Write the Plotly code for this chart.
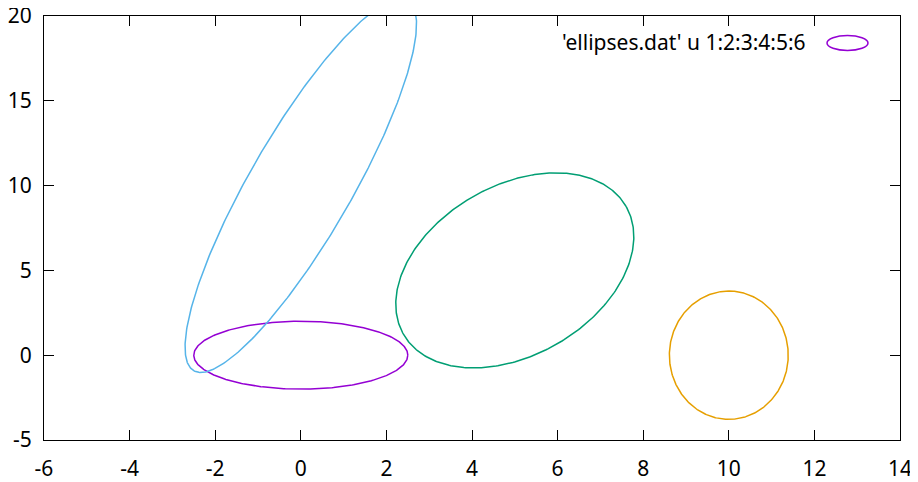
import numpy as np
import plotly.graph_objects as go

# ellipses.dat : x y major minor angle
xc = [0, 10, 5, 0]
yc = [0, 0, 5, 10]
major = [5, 3, 6, 10]
minor = [4, 7, 10, 6]
angle = [0, 90, 30, 60]
colors = ["#9400d3", "#e69f00", "#009e73", "#56b4e9"]

x_ticks = [-6, -4, -2, 0, 2, 4, 6, 8, 10, 12, 14]
x_labels = ["-6", "-4", "-2", "0", "2", "4", "6", "8", "10", "12", "14"]
y_ticks = [-5, 0, 5, 10, 15, 20]
y_labels = ["-5", "0", "5", "10", "15", "20"]
legend_label = "'ellipses.dat' u 1:2:3:4:5:6"

# page body has an 8px default margin: the figure starts at (8, 8)
OFF = 8
W, H = 918 - OFF, 482 - OFF
ML, MR, MT, MB = 44 - OFF, 18, 15.5 - OFF, 42
pw, ph = W - ML - MR, H - MT - MB
xr, yr = [-6, 14], [-5, 20]
sx = pw / (xr[1] - xr[0])
sy = ph / (yr[1] - yr[0])

fig = go.Figure()
t = np.linspace(0, 2 * np.pi, 400)
for cx, cy, ma, mi, ang, col in zip(xc, yc, major, minor, angle, colors):
    a = ma / 2 * sx
    b = mi / 2 * sy
    th = np.deg2rad(ang)
    dx = a * np.cos(t) * np.cos(th) - b * np.sin(t) * np.sin(th)
    dy = a * np.cos(t) * np.sin(th) + b * np.sin(t) * np.cos(th)
    fig.add_trace(go.Scatter(x=cx + dx / sx, y=cy + dy / sy, mode="lines",
                             line=dict(color=col, width=1.5), showlegend=False,
                             hoverinfo="skip"))

font = dict(family="Noto Sans", size=21, color="black")
axis_common = dict(showgrid=False, zeroline=False, showline=True, linecolor="black",
                   linewidth=1, mirror="ticks", ticks="inside", ticklen=10,
                   tickcolor="black", tickwidth=1, tickfont=font, automargin=False,
                   ticklabeloverflow="allow")
fig.update_layout(
    width=W, height=H, plot_bgcolor="white", paper_bgcolor="white",
    margin=dict(l=ML, r=MR, t=MT, b=MB),
    xaxis=dict(range=xr, tickvals=x_ticks, ticktext=x_labels, ticklabelstandoff=10,
               **axis_common),
    yaxis=dict(range=yr, tickvals=y_ticks, ticktext=y_labels, ticklabelstandoff=7,
               **axis_common),
    showlegend=False,
)
fig.add_annotation(text=legend_label, xref="paper", yref="paper",
                   x=(805 - 44) / pw, y=1 - (42 - 15.5) / ph, xanchor="right",
                   yanchor="middle", showarrow=False, font=font, xshift=3)
fig.add_shape(type="circle", xref="paper", yref="paper",
              x0=(827 - 44) / pw, x1=(868 - 44) / pw,
              y0=1 - (50 - 15.5) / ph, y1=1 - (35 - 15.5) / ph,
              line=dict(color=colors[0], width=1.5))
fig.write_html("out.html")
